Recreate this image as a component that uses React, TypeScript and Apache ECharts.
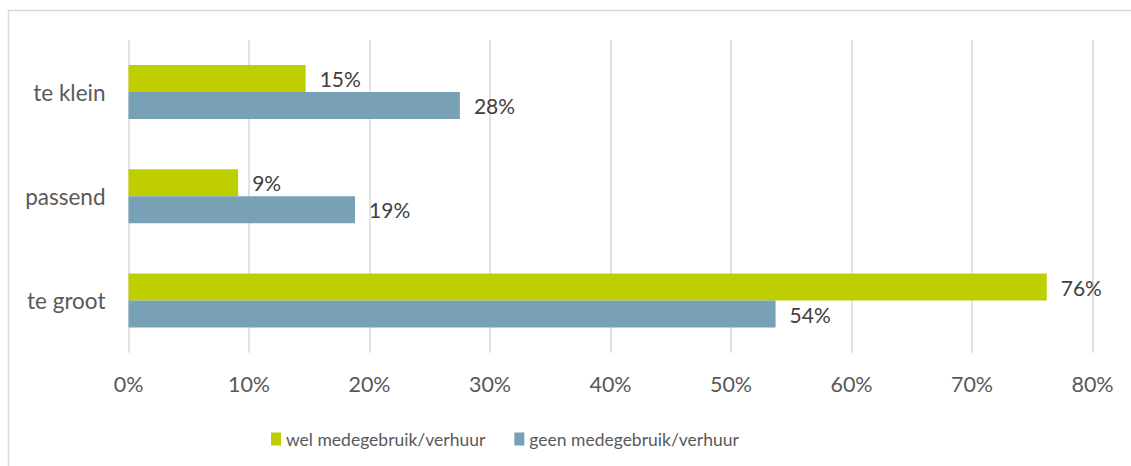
import React, { useEffect, useRef } from "react";
import * as echarts from "echarts";

const categories = ["te klein", "passend", "te groot"];
const welValues = [14.7, 9.1, 76.2];
const geenValues = [27.5, 18.8, 53.7];
const seriesNames = ["wel medegebruik/verhuur", "geen medegebruik/verhuur"];
const xTicks = { min: 0, max: 80, interval: 10 };

const FONT = "Lato";
const GREEN = "#bfce00";
const BLUE = "#78a1b5";

export default function App() {
  const ref = useRef<HTMLDivElement>(null);
  useEffect(() => {
    document.body.style.margin = "0";
    const chart = echarts.init(ref.current!, undefined, { renderer: "svg" });
    const labelCfg = {
      show: true,
      position: "right",
      distance: 14,
      fontFamily: FONT,
      fontSize: 21,
      color: "#404040",
      formatter: (p: any) => Math.round(p.value) + "%",
    };
    chart.setOption({
      animation: false,
      backgroundColor: "#ffffff",
      graphic: [
        {
          type: "rect",
          shape: { x: 8.5, y: 10.5, width: 1200, height: 600 },
          style: { fill: "none", stroke: "#d9d9d9", lineWidth: 1.5 },
          silent: true,
        },
      ],
      grid: { left: 128.5, right: 38.5, top: 40, bottom: 113.3, containLabel: false },
      xAxis: {
        type: "value",
        min: xTicks.min,
        max: xTicks.max,
        interval: xTicks.interval,
        axisLine: { show: false },
        axisTick: { show: false },
        splitLine: { show: true, lineStyle: { color: "#d9d9d9", width: 1.5 } },
        axisLabel: {
          formatter: "{value}%",
          fontFamily: FONT,
          fontSize: 21.5,
          color: "#595959",
          margin: 20,
        },
      },
      yAxis: {
        type: "category",
        data: categories,
        inverse: true,
        axisLine: { show: false },
        axisTick: { show: false },
        splitLine: { show: false },
        axisLabel: {
          fontFamily: FONT,
          fontSize: 22.5,
          color: "#595959",
          margin: 23,
          padding: [0, 0, 4, 0],
        },
      },
      legend: {
        left: 266,
        top: 425,
        icon: "rect",
        itemWidth: 10,
        itemHeight: 13,
        itemGap: 29,
        textStyle: { fontFamily: FONT, fontSize: 17.5, color: "#595959" },
        data: seriesNames,
      },
      series: [
        {
          name: seriesNames[0],
          type: "bar",
          data: welValues,
          barWidth: 27,
          barGap: "0%",
          itemStyle: { color: GREEN },
          label: labelCfg,
        },
        {
          name: seriesNames[1],
          type: "bar",
          data: geenValues,
          barWidth: 27,
          barGap: "0%",
          itemStyle: { color: BLUE },
          label: labelCfg,
        },
      ],
    });
    return () => chart.dispose();
  }, []);
  return <div ref={ref} style={{ width: 1131, height: 466 }} />;
}
